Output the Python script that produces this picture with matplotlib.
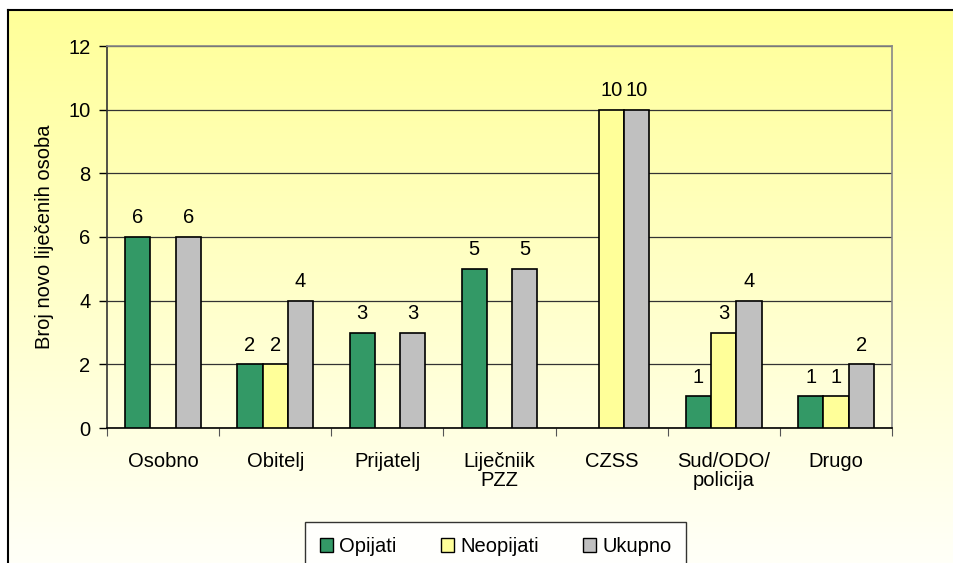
import numpy as np
import matplotlib
matplotlib.use('Agg')
import matplotlib.pyplot as plt
from matplotlib.patches import Patch

plt.rcParams['font.family'] = ['Liberation Sans', 'DejaVu Sans']

categories = ['Osobno', 'Obitelj', 'Prijatelj', 'Liječniik\nPZZ', 'CZSS',
              'Sud/ODO/\npolicija', 'Drugo']
opijati = [6, 2, 3, 5, np.nan, 1, 1]
neopijati = [np.nan, 2, np.nan, np.nan, 10, 3, 1]
ukupno = [6, 4, 3, 5, 10, 4, 2]
series_names = ['Opijati', 'Neopijati', 'Ukupno']
colors = ['#339966', '#FFFF99', '#C0C0C0']

FS = 14.5
W, H = 954, 563
fig = plt.figure(figsize=(W / 100, H / 100), dpi=100)

# background with vertical gradient and black frame (left/top visible)
bg = fig.add_axes([8 / W, 0, 1 - 8 / W, 1 - 10 / H])
grad = np.linspace(0, 1, 256).reshape(-1, 1)
top = np.array([255, 255, 153]) / 255
bot = np.array([255, 255, 248]) / 255
img = top[None, None, :] * (1 - grad[:, :, None]) + bot[None, None, :] * grad[:, :, None]
bg.imshow(img, aspect='auto', extent=[0, 1, 0, 1])
bg.set_xticks([])
bg.set_yticks([])
bg.spines['right'].set_visible(False)
bg.spines['bottom'].set_visible(False)
for s in ['left', 'top']:
    bg.spines[s].set_linewidth(1.5)
    bg.spines[s].set_color('black')

ax = fig.add_axes([107 / W, 1 - 428 / H, (892 - 107) / W, (428 - 46) / H])
ax.set_facecolor('none')

x = np.arange(len(categories))
w = 0.225
for i, (vals, col) in enumerate(zip([opijati, neopijati, ukupno], colors)):
    pos = x + (i - 1) * w
    ax.bar(pos, vals, w, color=col, edgecolor='black', linewidth=1.2, zorder=3)
    for p, v in zip(pos, vals):
        if not np.isnan(v):
            ax.text(p, v + 0.3, f'{int(v)}', ha='center', va='bottom',
                    fontsize=FS, zorder=4)

ax.set_xlim(-0.5, len(categories) - 0.5)
ax.set_ylim(0, 12)
ax.set_yticks(range(0, 13, 2))
ax.tick_params(axis='y', labelsize=FS, length=6, direction='out', width=1, pad=6)
ax.grid(axis='y', color='#333333', linewidth=0.9, zorder=0)

# category boundaries as ticks, labels centred with minor ticks
ax.set_xticks(np.arange(-0.5, len(categories), 1))
ax.set_xticklabels([])
ax.tick_params(axis='x', which='major', length=6, color='#555555')
ax.set_xticks(x, minor=True)
ax.set_xticklabels(categories, minor=True, fontsize=FS, linespacing=1.05)
ax.tick_params(axis='x', which='minor', length=0, pad=17)

ax.spines['left'].set_color('#333333')
ax.spines['bottom'].set_color('black')
ax.spines['top'].set_color('#888888')
ax.spines['right'].set_color('#888888')
for s in ax.spines.values():
    s.set_linewidth(1.2)

ax.set_ylabel('Broj novo liječenih osoba', fontsize=FS, labelpad=10)

handles = [Patch(facecolor=c, edgecolor='black', label=n)
           for c, n in zip(colors, series_names)]
leg = fig.legend(handles=handles, ncol=3, loc='upper left',
                 bbox_to_anchor=(305 / W, 1 - 522 / H), fontsize=FS,
                 frameon=True, fancybox=False, edgecolor='black',
                 handlelength=0.65, handleheight=0.65, handletextpad=0.3,
                 columnspacing=2.2, borderpad=0.75, borderaxespad=0)
leg.get_frame().set_facecolor('white')
leg.get_frame().set_linewidth(1.0)

fig.savefig('out.png', dpi=100)
